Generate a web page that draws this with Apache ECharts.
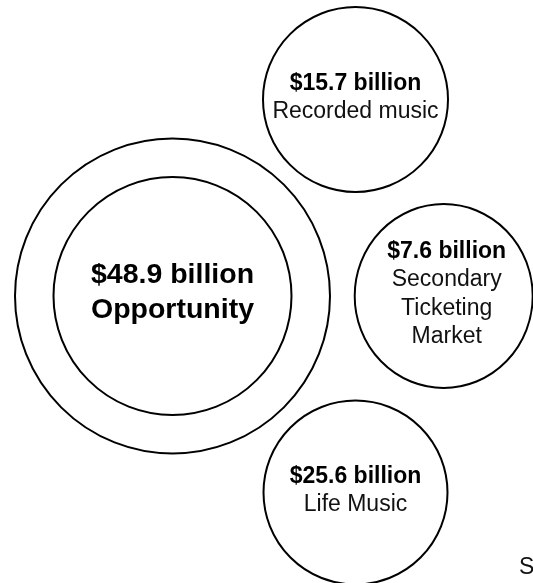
<!DOCTYPE html>
<html>
<head>
<meta charset="utf-8">
<script src="https://cdn.jsdelivr.net/npm/echarts@6/dist/echarts.min.js"></script>
<style>
  html, body { margin: 0; padding: 0; background: #fff; }
  #chart { width: 533px; height: 583px; }
</style>
</head>
<body>
<div id="chart"></div>
<script>
// ---- data ----
var totalLabel = 'Opportunity';
var totalValue = 48.9;
var categories = ['Recorded music', 'Secondary\nTicketing\nMarket', 'Life Music'];
var values = [15.7, 7.6, 25.6];
var sourceText = 'Source';

// ---- layout (pixel positions of bubble centres, diameters, label offsets) ----
var layout = {
  total: { x: 172.5, y: 296, outer: 315, inner: 238 },
  parts: [
    { x: 355.5, y: 99.5, d: [185, 185], off: [0, -2] },
    { x: 443.7, y: 296, d: [178, 184], off: [3, -2] },
    { x: 355.5, y: 492.5, d: [184, 184], off: [0, -2] }
  ]
};

var FONT = 'Liberation Sans, Arial, sans-serif';
var INK = '#000';

function fmt(v) { return '$' + v.toFixed(1) + ' billion'; }

var partData = categories.map(function (c, i) {
  var p = layout.parts[i];
  return {
    value: [p.x, p.y],
    symbolSize: p.d,
    label: {
      offset: p.off,
      formatter: '{b|' + fmt(values[i]) + '}\n{r|' + c.split('\n').join('}\n{r|') + '}'
    }
  };
});

var chart = echarts.init(document.getElementById('chart'), null, { renderer: 'canvas' });
chart.setOption({
  animation: false,
  backgroundColor: '#fff',
  grid: { left: 0, right: 0, top: 0, bottom: 0 },
  xAxis: { type: 'value', min: 0, max: 533, show: false },
  yAxis: { type: 'value', min: 0, max: 583, inverse: true, show: false },
  graphic: [{
    type: 'text',
    left: 519,
    top: 556,
    style: { text: sourceText, font: '23px ' + FONT, fill: '#111' }
  }],
  series: [
    {
      type: 'scatter',
      symbol: 'circle',
      silent: true,
      clip: false,
      itemStyle: { color: 'rgba(255,255,255,0)', borderColor: INK, borderWidth: 2, opacity: 1 },
      data: [
        { value: [layout.total.x, layout.total.y], symbolSize: layout.total.outer, label: { show: false } },
        {
          value: [layout.total.x, layout.total.y],
          symbolSize: layout.total.inner,
          label: {
            show: true,
            position: 'inside',
            offset: [0, -3],
            formatter: '{B|' + fmt(totalValue) + '}\n{B|' + totalLabel + '}',
            rich: { B: { fontFamily: FONT, fontSize: 28.5, fontWeight: 'bold', color: INK, lineHeight: 35, textBorderWidth: 0 } }
          }
        }
      ]
    },
    {
      type: 'scatter',
      symbol: 'circle',
      silent: true,
      clip: false,
      itemStyle: { color: 'rgba(255,255,255,0)', borderColor: INK, borderWidth: 2, opacity: 1 },
      label: {
        show: true,
        position: 'inside',
        rich: {
          b: { fontFamily: FONT, fontSize: 23, fontWeight: 'bold', color: INK, lineHeight: 28.5, textBorderWidth: 0 },
          r: { fontFamily: FONT, fontSize: 23, color: '#111', lineHeight: 28.5, textBorderWidth: 0 }
        }
      },
      data: partData
    }
  ]
});
</script>
</body>
</html>
